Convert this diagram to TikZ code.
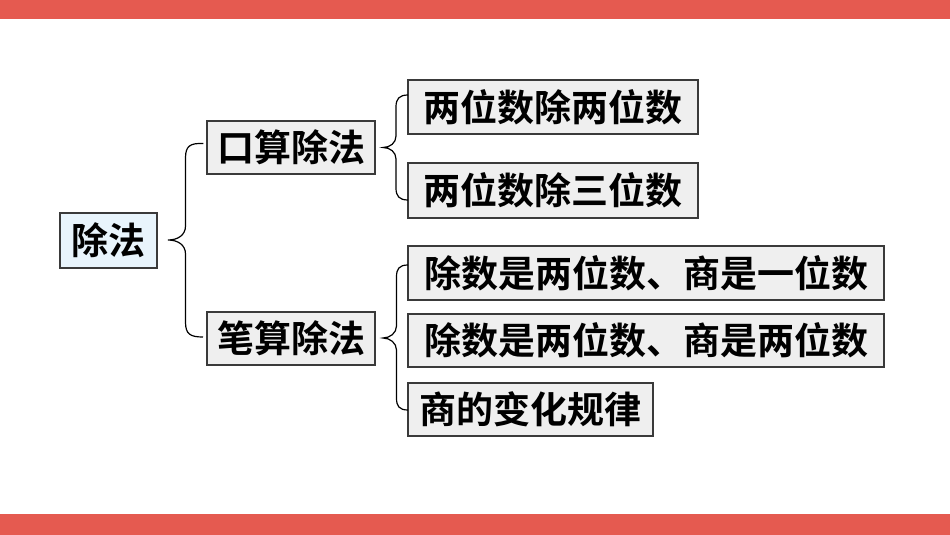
\documentclass[tikz,border=0pt]{standalone}
\usepackage{fontspec}
\newfontfamily\cjkbold{Noto Sans CJK SC Bold}
\definecolor{barred}{HTML}{E55A50}
\definecolor{boxgray}{HTML}{EFEFEF}
\definecolor{boxblue}{HTML}{E8F4FC}
\definecolor{edgegray}{HTML}{3A3A3A}
\tikzset{
  boxnode/.style={draw=edgegray, line width=1.4pt, fill=boxgray, inner sep=0pt,
    font=\cjkbold\fontsize{37}{40}\selectfont, text=black},
  rootnode/.style={boxnode, fill=boxblue},
  bracepath/.style={draw=black, line width=1.2pt},
  bar/.style={fill=barred, draw=none}
}
\begin{document}
\begin{tikzpicture}[x=1pt,y=-1pt]
\useasboundingbox (0,0) rectangle (950,535);
\fill[white] (0,0) rectangle (950,535);
\fill[bar] (0,0) rectangle (950,19);
\fill[bar] (0,514) rectangle (950,535);

\node[rootnode, minimum width=97pt, minimum height=55pt] (chufa) at (108.5,240.5) {除法};
\node[boxnode, minimum width=168pt, minimum height=53pt] (kousuan) at (291,147.5) {口算除法};
\node[boxnode, minimum width=168pt, minimum height=53pt] (bisuan) at (291,338.5) {笔算除法};
\node[boxnode, minimum width=290pt, minimum height=54pt] (k1) at (553,107) {两位数除两位数};
\node[boxnode, minimum width=290pt, minimum height=55pt] (k2) at (553,190.5) {两位数除三位数};
\node[boxnode, minimum width=476pt, minimum height=54pt] (b1) at (646,273) {除数是两位数、商是一位数};
\node[boxnode, minimum width=476pt, minimum height=53pt] (b2) at (646,340.5) {除数是两位数、商是两位数};
\node[boxnode, minimum width=245pt, minimum height=53pt] (b3) at (530.5,409.5) {商的变化规律};

% brace 1: 除法 -> 口算除法 / 笔算除法
\coordinate (t1) at (168,240);
\draw[bracepath] (kousuan.west) ++(-3,-4)
  .. controls (190,143) and (185.5,146) .. (185.5,158)
  -- (185.5,226)
  .. controls (185.5,235) and (178,240) .. (t1)
  .. controls (178,240) and (185.5,245) .. (185.5,254)
  -- (185.5,322)
  .. controls (185.5,334) and (190,337) .. (203,337);

% brace 2: 口算除法 -> two items
\coordinate (t2) at (383,147.5);
\draw[bracepath] (408,95)
  .. controls (399,95) and (396,99) .. (396,107)
  -- (396,136)
  .. controls (396,143) and (390,147.5) .. (t2)
  .. controls (390,147.5) and (396,152) .. (396,159)
  -- (396,188)
  .. controls (396,196) and (399,200) .. (408,200);

% brace 3: 笔算除法 -> three items
\coordinate (t3) at (383,338);
\draw[bracepath] (408,265)
  .. controls (399,265) and (396.5,269) .. (396.5,277)
  -- (396.5,326)
  .. controls (396.5,333) and (390,338) .. (t3)
  .. controls (390,338) and (396.5,343) .. (396.5,350)
  -- (396.5,398)
  .. controls (396.5,406) and (399,410) .. (408,410);
\end{tikzpicture}
\end{document}
